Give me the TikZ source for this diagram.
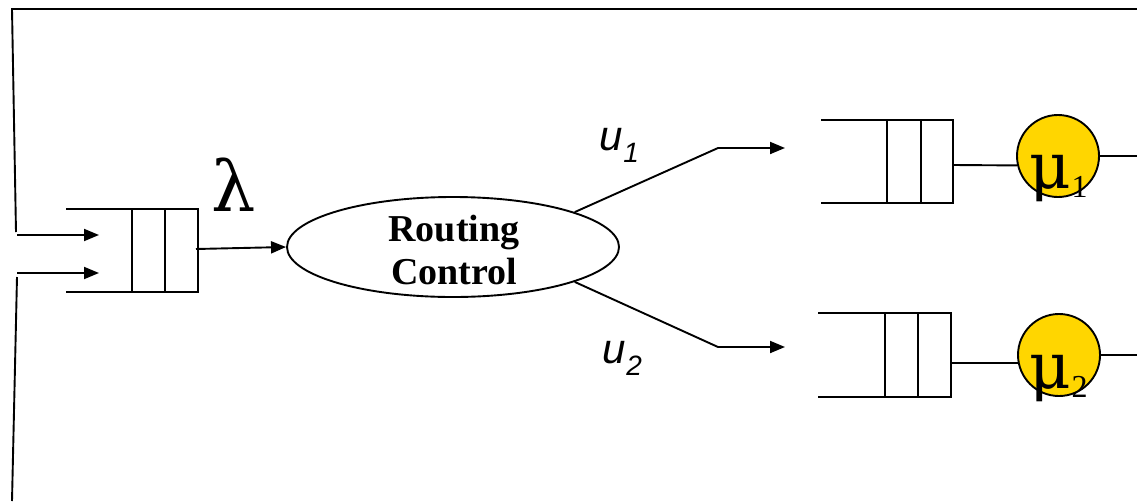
\documentclass[tikz,border=0pt]{standalone}
\usepackage{fontspec}
\setmainfont{Liberation Serif}
\newfontfamily\arialfont{Liberation Sans}
\newfontfamily\greekfont{DejaVu Serif}
\usetikzlibrary{arrows.meta,shapes.geometric}
\definecolor{srvgold}{RGB}{255,214,0}
\begin{document}
\begin{tikzpicture}[x=1pt,y=-1pt,line width=1.9pt,
  flow/.style={-{Triangle[length=15pt,width=12pt]}},
  server/.style={circle,draw,fill=srvgold,minimum size=82pt,inner sep=0pt},
  router/.style={ellipse,draw,minimum width=332pt,minimum height=100pt,inner sep=0pt},
  lbl/.style={anchor=base west,inner sep=0pt}]
\useasboundingbox (0,0) rectangle (1137,501);

% feedback frame and the two inputs
\coordinate (fbA) at (16,232);
\coordinate (fbB) at (12,9);
\coordinate (fbC) at (1137,9);
\coordinate (fbD) at (17,277);
\coordinate (fbE) at (12,501);
\draw (fbA) -- (fbB) -- (fbC);
\draw (fbD) -- (fbE);
\coordinate (in1) at (17,235);  \coordinate (in1e) at (99,235);
\coordinate (in2) at (17,273);  \coordinate (in2e) at (99,273);
\draw[flow] (in1) -- (in1e);
\draw[flow] (in2) -- (in2e);

% input queue
\draw (66,209) -- (198,209) -- (198,292) -- (66,292);
\draw (132,209) -- (132,292) (165,209) -- (165,292);
\coordinate (q0out) at (196,249);

% routing control
\node[router] (rc) at (453,247) {};
\node[font=\bfseries\fontsize{38}{43}\selectfont,align=center,inner sep=0pt] (rctext) at (454,250) {Routing\\Control};
\draw[flow] (q0out) -- (rc.west);
\node[lbl] (lam) at (211,211) {\greekfont\fontsize{70}{70}\selectfont λ};

% branches
\coordinate (b1) at (718,148); \coordinate (a1) at (785,148);
\coordinate (b2) at (718,347); \coordinate (a2) at (785,347);
\draw[flow] (rc.16) -- (b1) -- (a1);
\draw[flow] (rc.-16) -- (b2) -- (a2);
\node[lbl] (u1) at (599,150) {\arialfont\itshape\fontsize{42}{42}\selectfont u\raisebox{-12pt}{\fontsize{28}{28}\selectfont 1}};
\node[lbl] (u2) at (602,363) {\arialfont\itshape\fontsize{42}{42}\selectfont u\raisebox{-12pt}{\fontsize{28}{28}\selectfont 2}};

% upper queue and server
\draw (821,120) -- (953,120) -- (953,203) -- (821,203);
\draw (887,120) -- (887,203) (921,120) -- (921,203);
\coordinate (q1out) at (953,165);
\node[server] (s1) at (1058,156) {};
\draw (q1out) -- (s1.193);
\coordinate (o1) at (1137,156);
\draw (s1.east) -- (o1);
\node[lbl] (mu1) at (1029,188) {{\greekfont\fontsize{64}{64}\selectfont μ}\raisebox{-9pt}{\fontsize{32}{32}\selectfont 1}};

% lower queue and server
\draw (818,313) -- (951,313) -- (951,397) -- (818,397);
\draw (885,313) -- (885,397) (918,313) -- (918,397);
\coordinate (q2out) at (951,363);
\node[server] (s2) at (1059,355) {};
\draw (q2out) -- (s2.191);
\coordinate (o2) at (1137,355);
\draw (s2.east) -- (o2);
\node[lbl] (mu2) at (1029,388) {{\greekfont\fontsize{64}{64}\selectfont μ}\raisebox{-9pt}{\fontsize{32}{32}\selectfont 2}};
\end{tikzpicture}
\end{document}
